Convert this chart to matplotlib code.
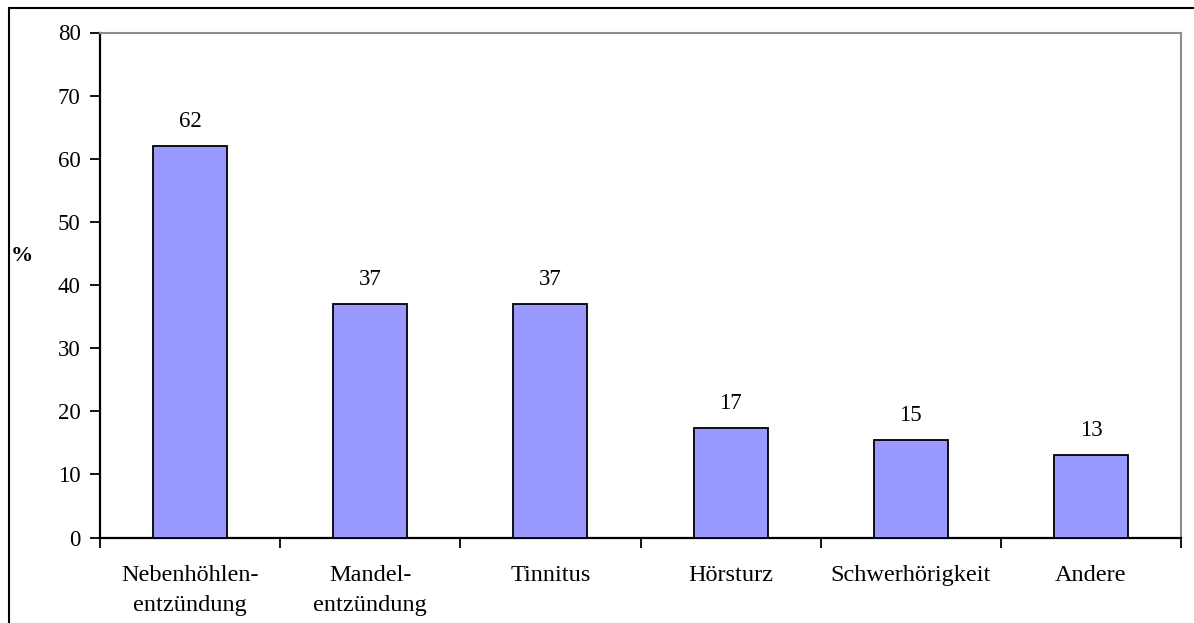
import matplotlib
matplotlib.use("Agg")
import matplotlib.pyplot as plt
from matplotlib.patches import Rectangle

categories = ["Nebenhöhlen-\nentzündung", "Mandel-\nentzündung", "Tinnitus",
              "Hörsturz", "Schwerhörigkeit", "Andere"]
values = [62, 37, 37, 17.3, 15.4, 13.1]
labels = ["62", "37", "37", "17", "15", "13"]
yticks = [0, 10, 20, 30, 40, 50, 60, 70, 80]

plt.rcParams['font.family'] = ['Liberation Serif', 'DejaVu Serif']

W, H = 1194, 623
fig = plt.figure(figsize=(W / 100, H / 100), dpi=100)
fig.patch.set_facecolor('white')

# outer chart frame (cropped at right/bottom)
fig.patches.append(Rectangle((8.5 / W, -0.1), 1.2, 1 - 8.5 / H + 0.1,
                             transform=fig.transFigure, fill=False,
                             edgecolor='black', linewidth=1.5, zorder=0))

ax = fig.add_axes([100 / W, 1 - 537.5 / H, (1181 - 100) / W, (537.5 - 32.5) / H])
n = len(categories)
x = list(range(n))
ax.bar(x, values, width=0.41, color='#9999FF', edgecolor='black', linewidth=1.3, zorder=3)
for xi, v, lab in zip(x, values, labels):
    ax.annotate(lab, (xi, v), xytext=(0, 10), textcoords='offset points',
                ha='center', va='bottom', fontsize=16.5)

ax.set_xlim(-0.5, n - 0.5)
ax.set_ylim(0, 80)
ax.set_yticks(yticks)
ax.set_yticklabels([str(t) for t in yticks], fontsize=16.5)
ax.set_xticks([i - 0.5 for i in range(n + 1)])
ax.set_xticklabels([])
ax.set_xticks(x, minor=True)
ax.set_xticklabels(categories, minor=True, fontsize=17.5, linespacing=1.55)
ax.tick_params(axis='x', which='minor', length=0, pad=20)
ax.tick_params(axis='x', which='major', direction='out', length=7, width=1.3)
ax.tick_params(axis='y', direction='out', length=7, width=1.3, pad=7)

for s in ['left', 'bottom']:
    ax.spines[s].set_color('black')
    ax.spines[s].set_linewidth(1.6)
for s in ['top', 'right']:
    ax.spines[s].set_color('#8c8c8c')
    ax.spines[s].set_linewidth(1.5)

fig.text(22 / W, 1 - 256 / H, '%', fontsize=16, fontweight='bold',
         ha='center', va='center')

fig.savefig('out.png', dpi=100)
